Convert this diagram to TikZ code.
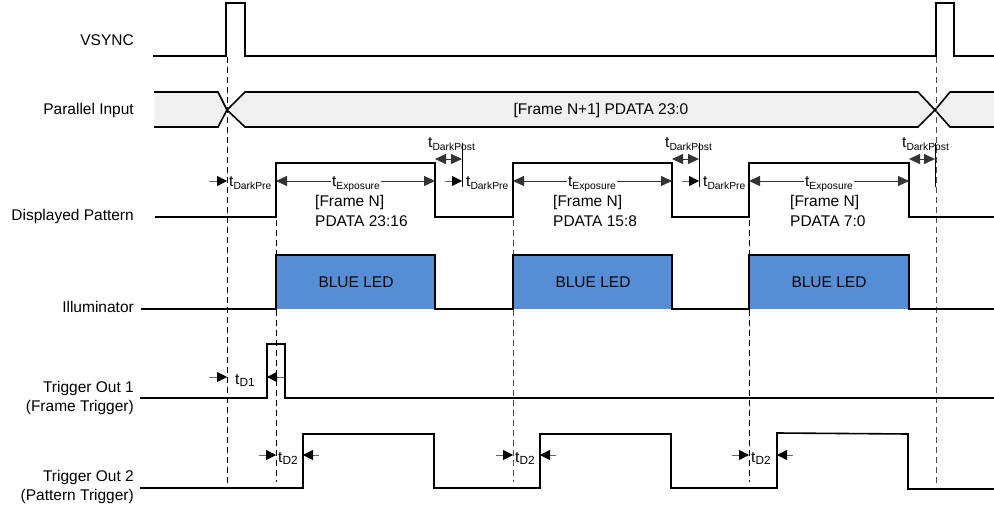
\documentclass[tikz,border=0pt]{standalone}
\usepackage{fontspec}
\setmainfont{Liberation Sans}
\usetikzlibrary{arrows.meta}
\definecolor{ledblue}{HTML}{558ED5}
\definecolor{busgray}{HTML}{F0F0F0}
\newcommand{\tsubscr}[2][10.3]{t\raisebox{-2.5pt}{\fontsize{#1}{12}\selectfont #2}}
\begin{document}
\begin{tikzpicture}[x=1pt,y=-1pt,
  sig/.style={line width=1.6pt, line join=miter, line cap=rect},
  guide/.style={line width=0.8pt, dash pattern=on 6pt off 4pt},
  lbl/.style={anchor=east, align=right, inner sep=0pt, font=\fontsize{15.5}{19}\selectfont},
  txt/.style={inner sep=0pt, font=\fontsize{15.5}{18}\selectfont},
  ann/.style={inner sep=0pt, anchor=base west, font=\fontsize{15.5}{18}\selectfont},
  tipr/.style={line width=0.8pt, draw=black!60, -{Triangle[length=10pt,width=10pt,fill=black,color=black]}},
  both/.style={line width=0.8pt, draw=black!80, {Triangle[length=11pt,width=10pt]}-{Triangle[length=11pt,width=10pt]}},
  tick/.style={line width=0.8pt}
]
\useasboundingbox (0,0) rectangle (994,513);

% ---------- labels ----------
\node[lbl] (lvs) at (134,40) {VSYNC};
\node[lbl] (lpi) at (134,110) {Parallel Input};
\node[lbl] (ldp) at (134,216) {Displayed Pattern};
\node[lbl] (lil) at (134,307) {Illuminator};
\node[lbl] (lt1) at (134,398) {Trigger Out 1\\(Frame Trigger)};
\node[lbl] (lt2) at (134,487) {Trigger Out 2\\(Pattern Trigger)};

% ---------- parallel input bus ----------
\fill[busgray] (154,92) -- (218,92) -- (227,110) -- (218,127) -- (154,127) -- cycle;
\fill[busgray] (245,92) -- (918,92) -- (935,110) -- (918,127) -- (245,127) -- (227,110) -- cycle;
\fill[busgray] (994,92) -- (950,92) -- (935,110) -- (950,127) -- (994,127) -- cycle;
\draw[sig,line cap=butt] (154,92) -- (218,92) -- (227,110) -- (218,127) -- (154,127);
\draw[sig,line cap=butt] (918,92) -- (935,110) -- (918,127) -- (245,127) -- (227,110) -- (245,92) -- cycle;
\draw[sig,line cap=butt] (994,92) -- (950,92) -- (935,110) -- (950,127) -- (994,127);
\node[txt] (bus) at (601,110) {[Frame N+1] PDATA 23:0};

% ---------- LED boxes ----------
\fill[ledblue] (276,255) rectangle (435,309);
\fill[ledblue] (513,255) rectangle (672,309);
\fill[ledblue] (749,255) rectangle (909,309);
\node[txt] (led1) at (356,282) {BLUE LED};
\node[txt] (led2) at (593,282) {BLUE LED};
\node[txt] (led3) at (829,282) {BLUE LED};

% ---------- dashed guides ----------
\draw[guide] (227,57) -- (227,483);
\draw[guide, black!70] (936,57) -- (936,483);
\draw[guide] (276,220) -- (276,482);
\draw[guide, black!70] (513,220) -- (513,482);
\draw[guide] (749,220) -- (749,482);

% ---------- waveforms ----------
\draw[sig] (154,56) -- (226,56) -- (226,3) -- (245,3) -- (245,56) -- (936,56) -- (936,3) -- (954,3) -- (954,56) -- (993,56);
\draw[sig] (156,217) -- (276,217) -- (276,163) -- (435,163) -- (435,217) -- (513,217) -- (513,163) -- (672,163) -- (672,217) -- (749,217) -- (749,163) -- (909,163) -- (909,217) -- (993,217);
\draw[sig] (142,309) -- (276,309) -- (276,255) -- (435,255) -- (435,309) -- (513,309) -- (513,255) -- (672,255) -- (672,309) -- (749,309) -- (749,255) -- (909,255) -- (909,309) -- (993,309);
\draw[sig] (141,398) -- (267,398) -- (267,344) -- (285,344) -- (285,398) -- (993,398);
\draw[sig] (141,488) -- (303,488) -- (303,434) -- (434,434) -- (434,488) -- (540,488) -- (540,434) -- (671,434) -- (671,488) -- (777,488) -- (777,433) -- (908,434) -- (908,489) -- (993,489);

% ---------- displayed pattern annotations ----------
% frame 1
\draw[tipr] (209,181) -- (227,181);
\node[ann] (dpre1) at (229,187) {\tsubscr{DarkPre}};
\draw[both] (276,181) -- (435,181);
\node[ann, anchor=base, fill=white, inner xsep=1pt] (exp1) at (356,187) {\tsubscr{Exposure}};
\draw[both] (435,159) -- (462,159);
\draw[tick] (462,143) -- (462,187);
\node[ann] (dpost1) at (428,148) {\tsubscr{DarkPost}};
\draw[tipr] (445,181) -- (462,181);
\node[ann] (dpre2) at (466,187) {\tsubscr{DarkPre}};
\node[txt, anchor=west] (f1a) at (315,202) {[Frame N]};
\node[txt, anchor=west] (f1b) at (315,221) {PDATA 23:16};
% frame 2
\draw[both] (513,181) -- (672,181);
\node[ann, anchor=base, fill=white, inner xsep=1pt] (exp2) at (592,187) {\tsubscr{Exposure}};
\draw[both] (672,159) -- (699,159);
\draw[tick] (699,143) -- (699,187);
\node[ann] (dpost2) at (665,148) {\tsubscr{DarkPost}};
\draw[tipr] (682,181) -- (699,181);
\node[ann] (dpre3) at (703,187) {\tsubscr{DarkPre}};
\node[txt, anchor=west] (f2a) at (553,202) {[Frame N]};
\node[txt, anchor=west] (f2b) at (553,221) {PDATA 15:8};
% frame 3
\draw[both] (749,181) -- (909,181);
\node[ann, anchor=base, fill=white, inner xsep=1pt] (exp3) at (829,187) {\tsubscr{Exposure}};
\draw[both] (909,159) -- (935,159);
\draw[tick] (935,143) -- (935,187);
\node[ann] (dpost3) at (902,148) {\tsubscr{DarkPost}};
\node[txt, anchor=west] (f3a) at (790,202) {[Frame N]};
\node[txt, anchor=west] (f3b) at (790,221) {PDATA 7:0};

% ---------- trigger delays ----------
\draw[tipr] (209,377) -- (227,377);
\draw[tipr] (284,377) -- (267,377);
\node[ann] (td1) at (235,384) {\tsubscr[11.8]{D1}};

\draw[tipr] (259,455) -- (276,455);
\draw[tipr] (319,455) -- (303,455);
\node[ann] (td2a) at (278,462) {\tsubscr[11.8]{D2}};
\draw[tipr] (496,455) -- (513,455);
\draw[tipr] (556,455) -- (540,455);
\node[ann] (td2b) at (515,462) {\tsubscr[11.8]{D2}};
\draw[tipr] (732,455) -- (749,455);
\draw[tipr] (793,455) -- (777,455);
\node[ann] (td2c) at (751,462) {\tsubscr[11.8]{D2}};
\end{tikzpicture}
\end{document}
